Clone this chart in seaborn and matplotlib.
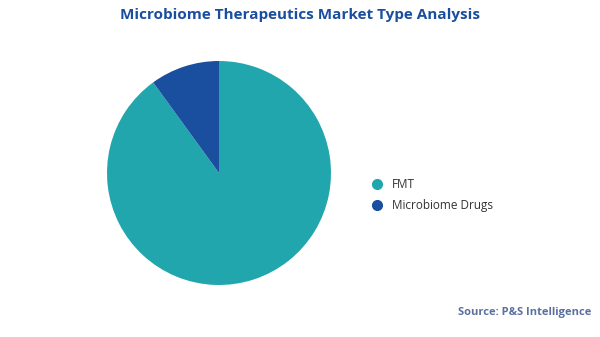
import matplotlib
matplotlib.use("Agg")
import matplotlib.pyplot as plt
import seaborn as sns
from matplotlib.lines import Line2D

categories = ["FMT", "Microbiome Drugs"]
shares = [90, 10]
colors = ["#22A6AD", "#1A4E9E"]
title = "Microbiome Therapeutics Market Type Analysis"
source = "Source: P&S Intelligence"

sns.set_theme(style="white")
plt.rcParams['font.family'] = ['Open Sans', 'DejaVu Sans']
palette = sns.color_palette(colors)

fig = plt.figure(figsize=(6, 3.37), dpi=100)
fig.patch.set_facecolor("white")
ax = fig.add_axes([107/600, (337-285)/337, 224/600, 224/337])
ax.pie(shares, colors=palette, startangle=90, counterclock=False,
       radius=1, wedgeprops=dict(linewidth=0))
ax.set_xlim(-1, 1)
ax.set_ylim(-1, 1)
ax.set_aspect("equal")
ax.axis("off")

handles = [Line2D([0], [0], marker="o", linestyle="", markersize=7,
                  markerfacecolor=c, markeredgecolor=c) for c in palette]
fig.legend(handles, categories, loc="center left",
           bbox_to_anchor=(355/600, 1 - 195/337), frameon=False,
           fontsize=8.5, handletextpad=0.2, labelspacing=0.7,
           labelcolor="#333333")

fig.text(0.5, 1 - 15/337, title, ha="center", va="center",
         fontsize=11, fontweight="bold", color="#1A4E9E")
fig.text(591/600, 1 - 313/337, source, ha="right", va="center",
         fontsize=8, fontweight="bold", color="#5B70A0")

fig.savefig("out.png", dpi=100, facecolor="white")
